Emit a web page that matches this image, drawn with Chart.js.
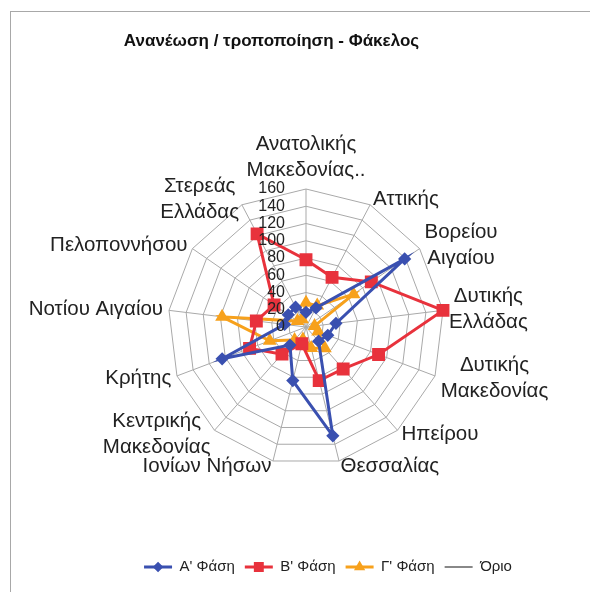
<!DOCTYPE html>
<html>
<head>
<meta charset="utf-8">
<script src="https://cdn.jsdelivr.net/npm/chart.js@4.4.1/dist/chart.umd.min.js"></script>
<style>
  html, body { margin: 0; padding: 0; background: #fff; overflow: hidden; }
  #box {
    position: absolute; left: 10px; top: 11px;
    width: 634px; height: 582px;
    border-left: 1px solid #a8a8a8; border-top: 1px solid #a8a8a8;
  }
</style>
</head>
<body>
<div id="box"><canvas id="grafico"></canvas></div>
<script>
// categorías (regiones) y valores
const regiones = [
  ['Ανατολικής', 'Μακεδονίας..'], 'Αττικής', ['Βορείου', 'Αιγαίου'], ['Δυτικής', 'Ελλάδας'],
  ['Δυτικής', 'Μακεδονίας'], 'Ηπείρου', 'Θεσσαλίας', 'Ιονίων Νήσων', ['Κεντρικής', 'Μακεδονίας'],
  'Κρήτης', 'Νοτίου Αιγαίου', 'Πελοποννήσου', ['Στερεάς', 'Ελλάδας']
];
const faseA = [17, 25, 139, 35, 27, 22, 130, 64, 28, 104, 25, 25, 26];
const faseB = [78, 65, 92, 160, 90, 65, 64, 20, 42, 70, 58, 45, 122];
const faseC = [28, 28, 67, 10, 15, 33, 25, 15, 20, 45, 98, 12, 10];
const orio = [0, 0, 0, 0, 0, 0, 0, 0, 0, 0, 0, 0, 0];
const ticks = [0, 20, 40, 60, 80, 100, 120, 140, 160];
const TITULO = 'Ανανέωση / τροποποίηση - Φάκελος';

const AZUL = '#3a50b0';
const ROJO = '#e8323c';
const NARANJA = '#f7a11c';
const GRIS = '#606060';
const FUENTE = "'Liberation Sans', Arial, sans-serif";

// la leyenda queda centrada en el lienzo, el radar va corrido a la izquierda
const DESPLAZAMIENTO_X = -22;

// título, algo corrido a la izquierda como en el original
const titulo = {
  id: 'titulo',
  afterDraw(chart) {
    const ctx = chart.ctx;
    ctx.save();
    ctx.font = 'bold 17px ' + FUENTE;
    ctx.fillStyle = '#111';
    ctx.textAlign = 'center';
    ctx.textBaseline = 'middle';
    ctx.fillText(TITULO, chart.width / 2 - 56.5, 29);
    ctx.restore();
  }
};

// etiquetas del eje a la izquierda del eje vertical, como en Excel
const tickLabels = {
  id: 'tickLabels',
  afterDatasetsDraw(chart) {
    const r = chart.scales.r;
    const ctx = chart.ctx;
    ctx.save();
    ctx.font = '16px ' + FUENTE;
    ctx.fillStyle = '#222';
    ctx.textAlign = 'right';
    ctx.textBaseline = 'middle';
    ticks.forEach(t => {
      const d = r.getDistanceFromCenterForValue(t);
      ctx.fillText(String(t), r.xCenter - 21, r.yCenter - d);
    });
    ctx.restore();
  }
};

// nombres de las regiones al lado de cada vértice (a la manera de Excel)
const etiquetas = {
  id: 'etiquetas',
  afterDraw(chart) {
    const r = chart.scales.r;
    const ctx = chart.ctx;
    const lh = 26;
    ctx.save();
    ctx.font = '20.5px ' + FUENTE;
    ctx.fillStyle = '#222';
    ctx.textAlign = 'center';
    ctx.textBaseline = 'middle';
    regiones.forEach((lab, i) => {
      const lineas = Array.isArray(lab) ? lab : [lab];
      const p = r.getPointPosition(i, r.drawingArea + 6);
      const ang = r.getIndexAngle(i);
      const ancho = Math.max(...lineas.map(l => ctx.measureText(l).width));
      let xMid, yTop;
      if (i === 0) {
        xMid = p.x;
        yTop = p.y - lineas.length * lh;
      } else {
        xMid = Math.sin(ang) > 0 ? p.x + ancho / 2 : p.x - ancho / 2;
        yTop = p.y - lineas.length * lh / 2;
      }
      lineas.forEach((l, k) => ctx.fillText(l, xMid, yTop + lh * (k + 0.5)));
    });
    ctx.restore();
  }
};

// marcadores dentro de la leyenda
const marcasLeyenda = {
  id: 'marcasLeyenda',
  afterDraw(chart) {
    const lg = chart.legend;
    if (!lg || !lg.legendHitBoxes) return;
    const ctx = chart.ctx;
    lg.legendHitBoxes.forEach((hb, i) => {
      const ds = chart.data.datasets[i];
      if (!ds.pointRadius) return;
      const cx = hb.left + 14;
      const cy = hb.top + hb.height / 2;
      ctx.save();
      ctx.fillStyle = ds.borderColor;
      ctx.strokeStyle = ds.borderColor;
      Chart.helpers.drawPoint(ctx, {
        pointStyle: ds.pointStyle, radius: ds.pointRadius * 0.7, borderWidth: 1, rotation: 0
      }, cx, cy);
      ctx.restore();
    });
  }
};

const ctx = document.getElementById('grafico').getContext('2d');
new Chart(ctx, {
  type: 'radar',
  data: {
    labels: regiones,
    datasets: [
      { label: "A' Φάση", data: faseA, borderColor: AZUL, backgroundColor: AZUL, borderWidth: 3,
        pointStyle: 'rectRot', pointRadius: 4.5, fill: false },
      { label: "B' Φάση", data: faseB, borderColor: ROJO, backgroundColor: ROJO, borderWidth: 3,
        pointStyle: 'rect', pointRadius: 7, fill: false },
      { label: "Γ' Φάση", data: faseC, borderColor: NARANJA, backgroundColor: NARANJA, borderWidth: 3,
        pointStyle: 'triangle', pointRadius: 5, fill: false },
      { label: 'Όριο', data: orio, borderColor: GRIS, backgroundColor: GRIS, borderWidth: 1.5,
        pointStyle: 'line', pointRadius: 0, fill: false }
    ]
  },
  options: {
    responsive: true,
    maintainAspectRatio: false,
    animation: false,
    layout: { padding: { left: 0, right: 0, top: 177, bottom: 9.5 } },
    elements: { line: { tension: 0 } },
    scales: {
      r: {
        min: 0,
        max: 160,
        ticks: { display: false, stepSize: 20 },
        grid: { color: '#a9a9a9', lineWidth: 1 },
        angleLines: { color: '#a9a9a9', lineWidth: 1 },
        pointLabels: { display: false },
        afterFit(scale) { scale.xCenter += DESPLAZAMIENTO_X; }
      }
    },
    plugins: {
      title: { display: false },
      legend: {
        position: 'bottom',
        title: { display: true, text: ' ', font: { size: 1 }, padding: { top: 83.3, bottom: 0 } },
        labels: {
          color: '#222',
          font: { family: FUENTE, size: 15 },
          usePointStyle: true,
          pointStyleWidth: 28,
          padding: 10,
          generateLabels(chart) {
            return chart.data.datasets.map((ds, i) => ({
              text: ds.label,
              fillStyle: ds.borderColor,
              strokeStyle: ds.borderColor,
              lineWidth: ds.borderWidth,
              pointStyle: 'line',
              datasetIndex: i,
              fontColor: '#222'
            }));
          }
        }
      },
      tooltip: { enabled: false }
    }
  },
  plugins: [tickLabels, etiquetas, marcasLeyenda, titulo]
});
</script>
</body>
</html>
